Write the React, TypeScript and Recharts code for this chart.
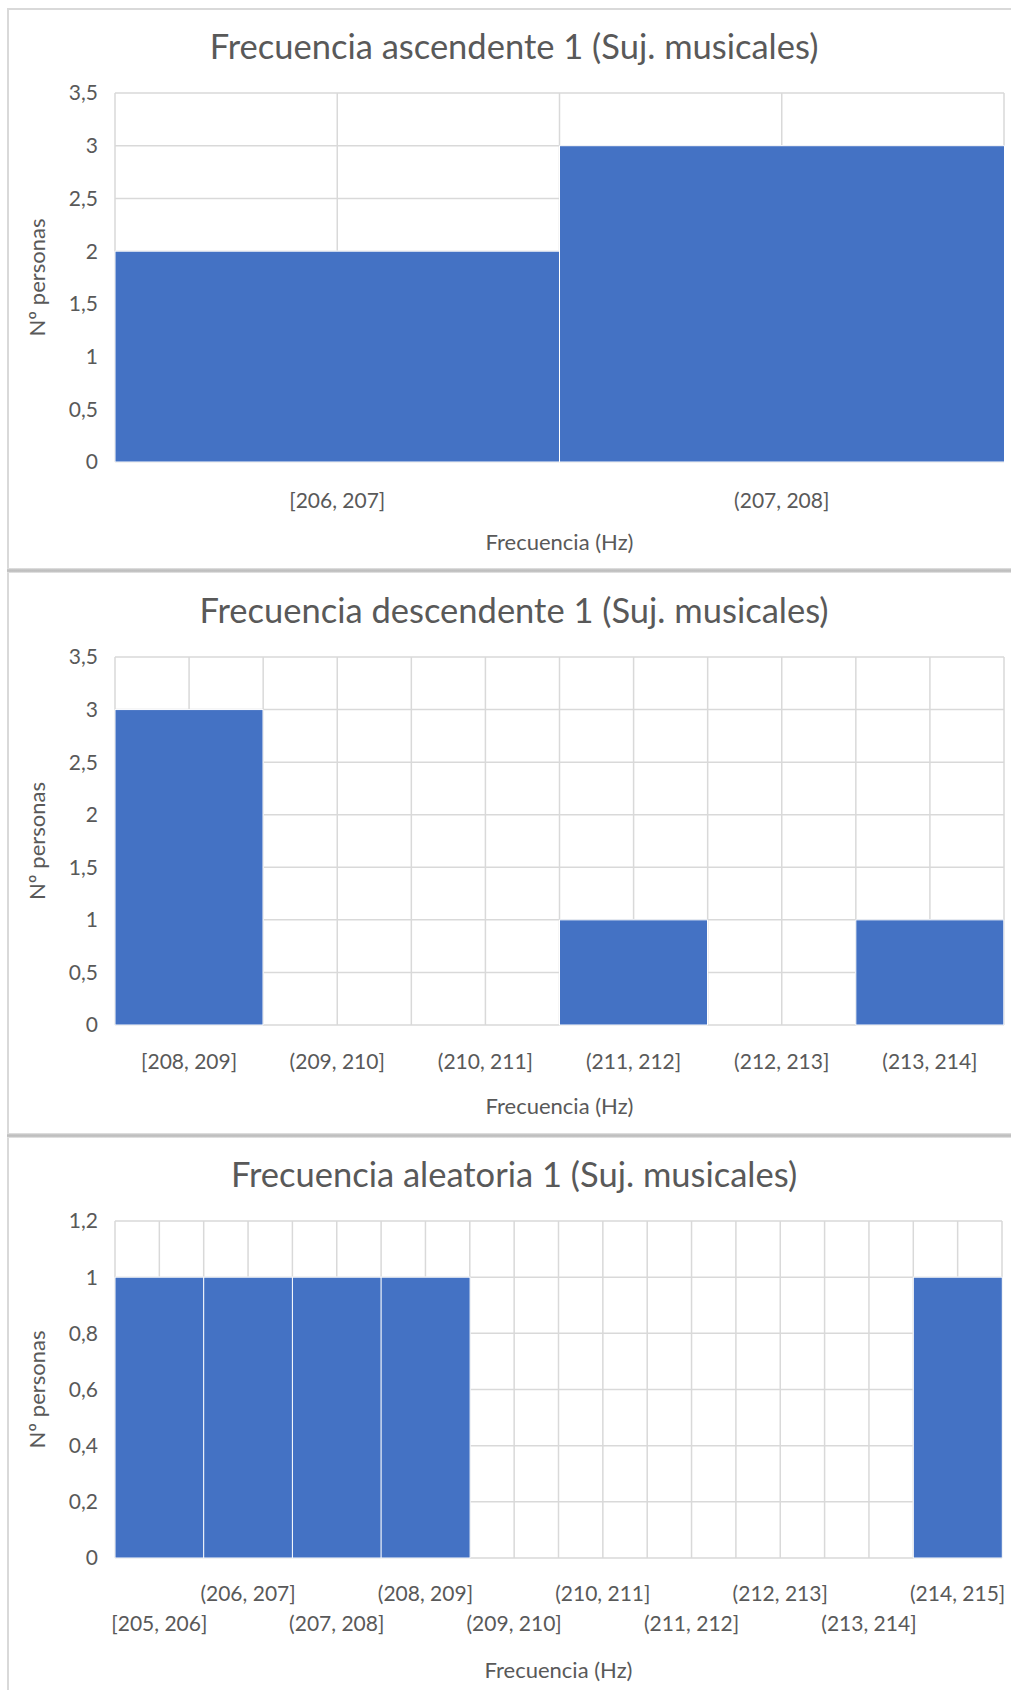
import React from 'react';
import { BarChart, Bar, XAxis, YAxis, CartesianGrid } from 'recharts';

// Frequency bins and participant counts for each test
const ascendingBins = ['[206, 207]', '(207, 208]'];
const ascendingCounts = [2, 3];
const ascendingTicks = [0, 0.5, 1, 1.5, 2, 2.5, 3, 3.5];

const descendingBins = ['[208, 209]', '(209, 210]', '(210, 211]', '(211, 212]', '(212, 213]', '(213, 214]'];
const descendingCounts = [3, 0, 0, 1, 0, 1];
const descendingTicks = [0, 0.5, 1, 1.5, 2, 2.5, 3, 3.5];

const randomBins = [
  '[205, 206]', '(206, 207]', '(207, 208]', '(208, 209]', '(209, 210]',
  '(210, 211]', '(211, 212]', '(212, 213]', '(213, 214]', '(214, 215]',
];
const randomCounts = [1, 1, 1, 1, 0, 0, 0, 0, 0, 1];
const randomTicks = [0, 0.2, 0.4, 0.6, 0.8, 1, 1.2];

const FONT = 'Lato, "Open Sans", "Noto Sans", sans-serif';
const TEXT = '#595959';
const GRID = '#d9d9d9';
const BAR = '#4472C4';

const decimalComma = (v: number) => String(v).replace('.', ',');

// vertical grid lines at every band edge and band centre
const halfBandLines = (n: number) => (args: any) => {
  const off = args?.offset ?? {};
  const left = off.left ?? args?.xAxis?.x ?? 0;
  const w = off.width ?? args?.xAxis?.width ?? 0;
  const pts: number[] = [];
  for (let i = 0; i <= 2 * n; i++) pts.push(left + (w * i) / (2 * n));
  return pts;
};

const BinTick = (props: any) => {
  const { x, y, payload, index, rowOffsets } = props;
  const dy = rowOffsets[index % rowOffsets.length];
  return (
    <text
      x={x}
      y={y + dy}
      textAnchor="middle"
      dominantBaseline="central"
      fill={TEXT}
      fontSize={21}
      fontFamily={FONT}
    >
      {payload.value}
    </text>
  );
};

type PanelProps = {
  title: string;
  bins: string[];
  counts: number[];
  ticks: number[];
  top: number;
  height: number;
  margin: { top: number; right: number; bottom: number; left: number };
  xAxisHeight: number;
  rowOffsets: number[];
  titleY: number;
  xTitleY: number;
};

const HistogramPanel = (p: PanelProps) => {
  const data = p.bins.map((bin, i) => ({ bin, count: p.counts[i] }));
  const plotTop = p.margin.top;
  const plotBottom = p.height - p.margin.bottom - p.xAxisHeight;
  const plotLeft = p.margin.left + 60;
  const plotRight = 1011 - p.margin.right;
  const yMid = (plotTop + plotBottom) / 2;
  return (
    <div style={{ position: 'absolute', left: 0, top: p.top, width: 1011, height: p.height }}>
      <BarChart
        width={1011}
        height={p.height}
        data={data}
        margin={p.margin}
        barCategoryGap={0}
        barGap={0}
      >
        <CartesianGrid
          stroke={GRID}
          strokeWidth={1.5}
          verticalCoordinatesGenerator={halfBandLines(p.bins.length)}
        />
        <XAxis
          dataKey="bin"
          interval={0}
          height={p.xAxisHeight}
          axisLine={false}
          tickLine={false}
          tickSize={0}
          tickMargin={0}
          tick={<BinTick rowOffsets={p.rowOffsets} />}
        />
        <YAxis
          width={60}
          type="number"
          domain={[0, p.ticks[p.ticks.length - 1]]}
          ticks={p.ticks}
          interval={0}
          axisLine={false}
          tickLine={false}
          tickSize={0}
          tickMargin={17}
          tickFormatter={decimalComma}
          tick={{ fill: TEXT, fontSize: 21, fontFamily: FONT }}
        />
        <Bar dataKey="count" fill={BAR} stroke="#ffffff" strokeWidth={1} isAnimationActive={false} />
      </BarChart>
      <svg
        width={1011}
        height={p.height}
        style={{ position: 'absolute', left: 0, top: 0, pointerEvents: 'none' }}
      >
        <text
          x={514}
          y={p.titleY}
          textAnchor="middle"
          dominantBaseline="central"
          fill={TEXT}
          fontSize={34.5}
          fontFamily={FONT}
        >
          {p.title}
        </text>
        <text
          x={(plotLeft + plotRight) / 2}
          y={p.xTitleY}
          textAnchor="middle"
          dominantBaseline="central"
          fill={TEXT}
          fontSize={22}
          fontFamily={FONT}
        >
          Frecuencia (Hz)
        </text>
        <text
          x={36}
          y={yMid}
          textAnchor="middle"
          dominantBaseline="central"
          fill={TEXT}
          fontSize={22}
          fontFamily={FONT}
          transform={`rotate(-90 36 ${yMid})`}
        >
          Nº personas
        </text>
      </svg>
    </div>
  );
};

const Separator = ({ y }: { y: number }) => (
  <div
    style={{
      position: 'absolute',
      left: 7,
      top: y,
      width: 1004,
      height: 5,
      background: 'linear-gradient(#e6e6e6, #bdbdbd 40%, #c4c4c4 70%, #ececec)',
    }}
  />
);

export default function App() {
  return (
    <div
      style={{
        position: 'absolute',
        left: 0,
        top: 0,
        width: 1011,
        height: 1690,
        background: '#ffffff',
        overflow: 'hidden',
      }}
    >
      <HistogramPanel
        title="Frecuencia ascendente 1 (Suj. musicales)"
        bins={ascendingBins}
        counts={ascendingCounts}
        ticks={ascendingTicks}
        top={0}
        height={570}
        margin={{ top: 93, right: 7, bottom: 48, left: 55 }}
        xAxisHeight={60}
        rowOffsets={[37]}
        titleY={45}
        xTitleY={541}
      />
      <HistogramPanel
        title="Frecuencia descendente 1 (Suj. musicales)"
        bins={descendingBins}
        counts={descendingCounts}
        ticks={descendingTicks}
        top={571}
        height={565}
        margin={{ top: 86, right: 7, bottom: 51, left: 55 }}
        xAxisHeight={60}
        rowOffsets={[35]}
        titleY={38}
        xTitleY={534}
      />
      <HistogramPanel
        title="Frecuencia aleatoria 1 (Suj. musicales)"
        bins={randomBins}
        counts={randomCounts}
        ticks={randomTicks}
        top={1135}
        height={555}
        margin={{ top: 86, right: 9, bottom: 52, left: 55 }}
        xAxisHeight={80}
        rowOffsets={[64, 34]}
        titleY={38}
        xTitleY={534}
      />
      {/* panel frame */}
      <div style={{ position: 'absolute', left: 7, top: 8, width: 1004, height: 1.5, background: GRID }} />
      <div style={{ position: 'absolute', left: 7, top: 8, width: 1.5, height: 1682, background: GRID }} />
      <Separator y={568} />
      <Separator y={1133} />
    </div>
  );
}
